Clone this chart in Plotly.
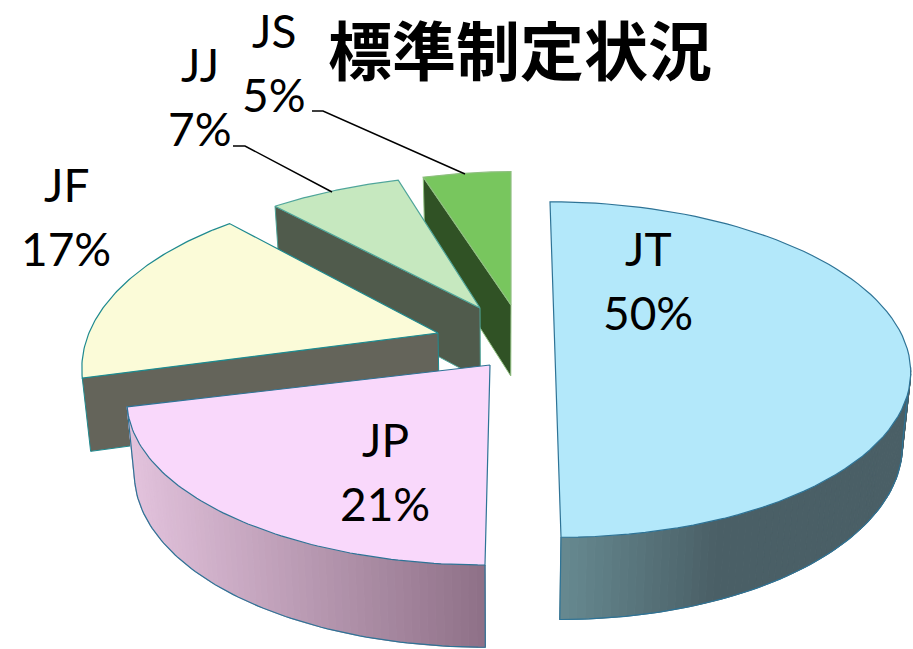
import math
import plotly.graph_objects as go

# ---- data ----
categories = ["JT", "JP", "JF", "JJ", "JS"]
values = [50, 21, 17, 7, 5]

# ---- styling ----
top_colors = ["#B3E8FA", "#F9D8FB", "#FBFBD8", "#C6E8BF", "#78C65E"]
edge_colors = ["#2E7396", "#2E7396", "#1F8A8F", "#4FA59A", "#8FBF80"]
side_colors = [None, None, "#64645A", "#505B4C", "#305225"]
# wedge tip, radii and lean of each exploded slice, in pixels
tips = {"JT": (554.4, 336), "JP": (490, 365), "JF": (438, 333), "JJ": (480, 308), "JS": (511, 305)}
radii = {"JT": (348, 161), "JP": (355, 160), "JF": (349, 172), "JJ": (358, 160), "JS": (338, 160)}
lean = {"JT": 5.28, "JP": -4, "JF": 0, "JJ": -14, "JS": 0}
PERSP = 0.2
label_pos = {"JT": (648, 248), "JP": (385, 439), "JF": (66, 184), "JJ": (200, 64), "JS": (274, 30)}
leaders = [([312, 323, 465], [111, 111, 174]), ([233, 245, 332], [146, 146, 192])]
# wall shading: colour at the left and right screen x of each curved wall
gradients = {"JT": ((561, 720), (0x67, 0x8A, 0x91), (0x4A, 0x5F, 0x66)),
             "JP": ((128, 487), (0xE3, 0xC3, 0xDD), (0x8E, 0x70, 0x87))}

# slice angles come from the values
total = sum(values)
angles = {}
acc = 0.0
for c, v in zip(categories, values):
    angles[c] = (acc / total * 2 * math.pi, (acc + v) / total * 2 * math.pi)
    acc += v


def top_pt(c, t, r=1.0):
    X, Y = r * math.sin(t), r * math.cos(t)
    s = 1 / (1 + PERSP * Y)
    cx, cy = tips[c]
    rx, ry = radii[c]
    return cx + rx * X * s - lean[c] * Y * s, cy - ry * Y * s


def bottom_pt(c, t, r=1.0):
    x, y = top_pt(c, t, r)
    s = 1 / (1 + PERSP * r * math.cos(t))
    return 500 + (x - 500) * 0.98, y + 71 + (s - 1) * 45


def arc(c, a, b, n=80, fn=top_pt):
    return [fn(c, a + (b - a) * i / n) for i in range(n + 1)]


fig = go.Figure()


def poly(pts, fill, line=None, width=1):
    xs = [p[0] for p in pts] + [pts[0][0]]
    ys = [p[1] for p in pts] + [pts[0][1]]
    fig.add_trace(go.Scatter(x=xs, y=ys, mode="lines", fill="toself", fillcolor=fill,
                             line=dict(color=line or fill, width=width), hoverinfo="skip",
                             showlegend=False))


def curved_wall(c):
    a, b = angles[c]
    if c == "JT":  # the back half of this slice has no visible wall
        a = a + (b - a) * 0.56
    (x0, x1), c0, c1 = gradients[c]
    n = 70
    for i in range(n):
        t0 = a + (b - a) * i / n
        t1 = a + (b - a) * (i + 1) / n
        xm = top_pt(c, (t0 + t1) / 2)[0]
        f = max(0.0, min(1.0, (xm - x0) / (x1 - x0)))
        rgb = [c0[k] + (c1[k] - c0[k]) * f for k in range(3)]
        col = "rgb(%d,%d,%d)" % tuple(rgb)
        poly([top_pt(c, t0), top_pt(c, t1), bottom_pt(c, t1), bottom_pt(c, t0)], col)
    pts = arc(c, a, b, fn=bottom_pt)
    outline = [top_pt(c, a)] + pts + [top_pt(c, b)]
    fig.add_trace(go.Scatter(x=[p[0] for p in outline], y=[p[1] for p in outline], mode="lines",
                             line=dict(color=edge_colors[categories.index(c)], width=1.2),
                             hoverinfo="skip", showlegend=False))


# drawn from back to front
for c in ["JS", "JJ", "JF", "JP", "JT"]:
    i = categories.index(c)
    a, b = angles[c]
    if side_colors[i]:
        poly([top_pt(c, a, 0.0), top_pt(c, a), bottom_pt(c, a), bottom_pt(c, a, 0.0)],
             side_colors[i], edge_colors[i])
    else:
        curved_wall(c)
    poly([top_pt(c, a, 0.0)] + arc(c, a, b), top_colors[i], edge_colors[i], 1.2)

for lx, ly in leaders:
    fig.add_trace(go.Scatter(x=lx, y=ly, mode="lines", line=dict(color="#000000", width=1.5),
                             hoverinfo="skip", showlegend=False))

annotations = []
for c, v in zip(categories, values):
    x, y = label_pos[c]
    for txt, yy in ((c, y), (f"{v}%", y + 64)):
        annotations.append(dict(x=x, y=yy, xref="x", yref="y", text=txt, showarrow=False,
                                xanchor="center", yanchor="middle",
                                font=dict(family="Lato", size=46, color="#000000")))

fig.update_layout(
    width=913, height=649, margin=dict(l=0, r=0, t=0, b=0),
    paper_bgcolor="#FFFFFF", plot_bgcolor="#FFFFFF", showlegend=False,
    xaxis=dict(range=[0, 913], visible=False, fixedrange=True),
    yaxis=dict(range=[649, 0], visible=False, fixedrange=True),
    annotations=annotations + [dict(x=520, y=47, xref="x", yref="y", text="<b>標準制定状況</b>",
                                    showarrow=False, xanchor="center", yanchor="middle",
                                    font=dict(family="Noto Sans CJK JP", size=64, color="#000000"))],
)
fig.write_html("out.html", post_script="document.body.style.margin='0';",
               config={"displayModeBar": False})
